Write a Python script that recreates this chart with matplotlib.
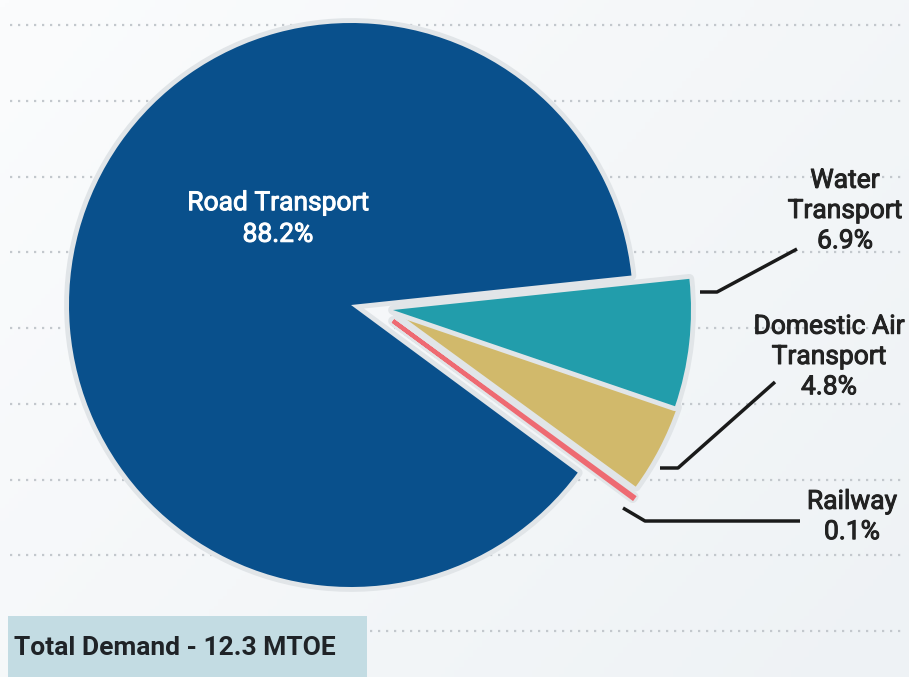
import numpy as np
import matplotlib.pyplot as plt
import matplotlib.patheffects as pe
from matplotlib.colors import LinearSegmentedColormap
from matplotlib.patches import Rectangle

plt.rcParams['font.family'] = ['Roboto', 'DejaVu Sans']

# Datos del grafico
sectores = ['Road Transport', 'Railway', 'Domestic Air Transport', 'Water Transport']
porcentajes = [88.2, 0.1, 4.8, 6.9]
etiquetas = ['Road Transport\n88.2%', 'Railway\n0.1%',
             'Domestic Air\nTransport\n4.8%', 'Water\nTransport\n6.9%']
total_texto = 'Total Demand - 12.3 MTOE'

colores = ['#09508c', '#ee6a72', '#d1b96b', '#229dab']
# desplazamiento de cada porcion separada (pixeles)
desplazamientos = [(0, 0), (42, 16), (44, 6), (42, 5)]

# Figura en coordenadas de pixel (eje y hacia abajo)
fig = plt.figure(figsize=(9.09, 6.77), dpi=100)
ax = fig.add_axes([0, 0, 1, 1])

# Fondo con degradado suave
fondo = LinearSegmentedColormap.from_list('fondo', ['#fbfcfd', '#eef2f5'])
gx, gy = np.meshgrid(np.linspace(0, 1, 200), np.linspace(0, 1, 200))
ax.imshow(gx * 0.6 + gy * 0.4, cmap=fondo, extent=[0, 909, 677, 0],
          aspect='auto', zorder=0)

# Lineas punteadas horizontales
for y in np.linspace(25, 631, 9):
    ax.plot([10, 905], [y, y], color='#c3c8cd', lw=1.6,
            linestyle=(0, (1, 2.6)), zorder=1)

# Pastel
cx, cy = 351, 305
wedges, _ = ax.pie(porcentajes, colors=colores, startangle=-6,
                   counterclock=False, center=(cx, cy), radius=282,
                   wedgeprops=dict(linewidth=0))
for w, (dx, dy) in zip(wedges, desplazamientos):
    w.set_zorder(3)
    if dx or dy:
        w.set_center((cx + dx, cy + dy))
        w.set_radius(298)
    w.set_path_effects([pe.Stroke(linewidth=7, foreground='#e1e5e8',
                                  joinstyle='round'), pe.Normal()])
# la franja de Railway es muy fina
wedges[1].set_edgecolor(colores[1])
wedges[1].set_linewidth(3)
wedges[1].set_zorder(3.5)

# Etiquetas
grueso = [pe.withStroke(linewidth=0.7, foreground='white')]
ax.text(278, 219, etiquetas[0], color='white', fontsize=19, ha='center',
        va='center', linespacing=1.4, zorder=5, path_effects=grueso)

pos_etiquetas = {1: (852, 517), 2: (829, 357), 3: (845, 211)}
grueso_osc = [pe.withStroke(linewidth=0.7, foreground='#222222')]
for i, (tx, ty) in pos_etiquetas.items():
    ax.text(tx, ty, etiquetas[i], color='#222222', fontsize=19,
            ha='center', va='center', linespacing=1.33,
            zorder=5, path_effects=grueso_osc)

# Lineas guia
guias = [
    [(700, 292), (717, 292), (797, 249)],
    [(660, 468), (678, 468), (775, 382)],
    [(623, 508), (645, 521), (800, 521)],
]
for g in guias:
    xs, ys = zip(*g)
    ax.plot(xs, ys, color='#1a1a1a', lw=2.5, solid_capstyle='butt', zorder=4)

# Caja de demanda total
ax.add_patch(Rectangle((8, 616), 359, 70, facecolor='#c3dce3',
                       edgecolor='none', zorder=4))
ax.text(14, 648, total_texto, color='#1f2327', fontsize=19,
        fontweight='bold', ha='left', va='center', zorder=5)

ax.set_xlim(0, 909)
ax.set_ylim(677, 0)
ax.axis('off')

plt.savefig('out.png', dpi=100)
